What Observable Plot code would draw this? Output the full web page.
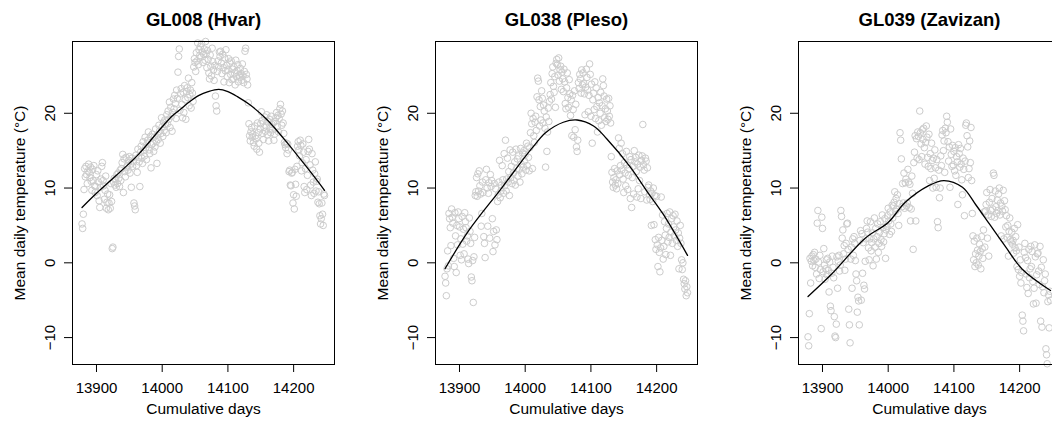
<!DOCTYPE html>
<html><head><meta charset="utf-8">
<script src="https://cdn.jsdelivr.net/npm/d3@7"></script>
<script src="https://cdn.jsdelivr.net/npm/@observablehq/plot@0.6"></script>
<style>
html,body{margin:0;padding:0;background:#fff;overflow:hidden;}
#row{display:flex;width:1089px;}
</style></head><body><div id="row"></div>
<script>
// ---- data ----
const firstDay = 13878; // daily observations, 13878 .. 14247
const titles = ["GL008 (Hvar)", "GL038 (Pleso)", "GL039 (Zavizan)"];
const xLabel = "Cumulative days";
const yLabel = "Mean daily temperature (°C)";
const xTicks = [13900, 14000, 14100, 14200];
const yTicks = [-10, 0, 10, 20];

const hvarTemps = [
5.2,4.6,6.5,9.8,12.6,11.5,12.9,11.8,10.6,12.3,
13.2,12.1,11.4,12.8,10.9,9.7,12.5,11.0,13.0,10.3,
9.4,10.2,11.8,9.0,12.3,10.8,8.3,7.4,10.1,11.2,
12.9,13.4,11.0,10.3,8.5,9.7,11.6,7.3,8.1,9.2,
7.1,8.0,9.1,7.3,10.6,8.2,1.9,2.1,10.8,11.3,
10.4,11.2,10.1,11.8,10.6,12.0,11.3,10.2,12.4,11.0,
12.6,13.4,14.5,9.4,13.9,12.2,11.5,14.1,12.8,13.0,
12.4,13.7,14.2,12.0,13.2,10.1,14.0,12.9,13.5,8.0,
7.6,7.1,14.4,13.0,12.1,15.2,14.1,13.5,10.2,14.8,
15.6,14.0,13.3,16.2,15.0,14.3,16.8,15.4,13.8,15.9,
16.4,17.5,15.1,14.6,16.9,12.7,15.8,17.2,16.0,14.9,
16.8,15.5,17.9,16.2,13.3,17.1,16.5,18.4,17.6,16.0,
17.3,19.4,18.2,16.9,18.8,17.7,19.1,18.5,17.4,19.8,
18.6,20.3,19.2,21.5,18.1,20.8,19.6,17.6,20.1,21.9,
20.6,22.4,21.3,19.3,23.1,22.0,25.5,27.6,28.6,20.4,
22.6,23.3,21.2,19.4,22.8,20.1,23.7,21.8,19.2,22.9,
23.4,22.1,24.7,21.0,22.5,23.1,20.7,24.1,22.7,21.6,
26.2,27.3,26.8,25.6,28.1,27.0,29.4,26.5,28.5,27.7,
28.9,27.5,29.3,28.2,26.8,27.9,28.6,27.1,29.6,28.0,
26.1,28.4,27.2,25.4,24.6,27.8,26.3,25.0,28.7,26.9,
25.8,24.4,26.4,22.3,21.0,20.3,25.6,27.0,26.2,28.2,
27.6,28.3,26.7,25.3,27.9,26.1,24.2,27.4,25.7,28.5,
26.4,24.9,25.8,27.3,24.1,26.7,25.2,27.0,24.5,25.9,
24.6,26.2,25.4,23.8,27.1,24.9,25.7,26.5,24.2,25.1,
24.8,26.0,25.3,24.4,26.6,25.0,24.1,25.6,28.3,28.7,
25.2,24.6,23.8,21.4,18.6,17.0,16.3,17.5,18.1,16.8,
17.2,16.1,15.6,18.3,17.0,16.6,15.2,18.7,17.4,16.0,
14.8,17.9,18.6,20.2,19.0,17.3,16.5,18.1,19.5,17.6,
18.3,19.8,17.1,18.9,16.3,19.2,18.0,17.4,19.6,18.5,
17.8,18.7,16.4,17.2,18.9,19.4,20.1,18.2,19.7,17.5,
19.3,20.6,21.2,19.9,18.4,20.3,18.7,17.3,16.1,15.8,
15.4,16.0,14.6,15.9,15.1,12.2,12.4,10.4,10.3,12.0,
12.1,8.0,9.1,7.2,12.5,10.5,8.9,12.9,15.6,16.2,
15.1,14.3,16.4,15.7,12.3,13.4,15.9,14.8,10.2,9.4,
12.6,13.8,9.8,11.7,14.9,16.5,15.2,13.1,10.4,9.0,
14.6,12.4,10.8,9.3,11.9,13.5,9.6,10.9,11.2,8.1,
9.5,7.9,6.3,5.2,5.9,8.0,6.5,5.0,9.2,9.0
];

const plesoTemps = [
-1.8,-2.7,-4.4,-0.8,1.6,-0.4,6.6,5.9,4.7,2.3,
7.2,6.1,5.3,0.6,-0.5,6.7,3.6,-1.3,5.0,2.4,
6.8,5.9,4.8,1.0,3.2,0.4,6.2,2.5,4.5,1.2,
6.7,5.5,4.7,2.9,3.6,0.5,-0.1,6.0,4.2,2.6,
-1.9,-2.4,0.3,-5.3,0.8,3.4,9.0,9.5,11.4,8.9,
11.9,9.6,12.3,10.3,9.2,4.9,6.6,10.8,9.4,3.5,
2.6,0.7,11.1,12.5,10.0,4.9,9.3,10.7,3.3,11.8,
10.2,11.0,5.9,1.5,4.2,10.6,2.4,9.9,4.4,3.1,
8.2,9.1,10.8,13.7,8.7,9.6,10.4,13.0,11.1,9.3,
14.6,10.3,16.4,9.6,11.2,14.0,10.8,12.2,9.0,15.1,
11.4,12.9,10.6,14.8,12.0,11.0,13.5,10.4,15.2,12.6,
13.9,11.6,14.3,12.5,10.8,15.3,13.2,11.9,14.7,12.8,
15.0,13.6,14.5,12.4,16.0,13.0,15.6,14.1,12.3,15.4,
17.4,20.0,18.6,12.6,19.3,17.0,16.1,18.8,19.6,17.7,
22.2,24.7,24.3,21.8,18.3,20.9,19.1,23.0,22.0,18.7,
21.1,20.3,18.0,12.8,19.5,14.9,17.5,20.7,18.9,21.6,
22.5,24.1,21.9,25.3,26.2,23.6,22.8,24.9,20.8,26.7,
27.2,26.5,25.1,27.4,24.3,25.8,26.3,23.2,25.5,24.6,
22.9,25.9,24.2,21.3,20.6,23.4,25.4,22.1,20.8,24.5,
22.6,19.7,21.8,17.0,22.4,20.5,16.8,23.0,17.8,21.2,
15.5,14.9,16.4,24.1,23.3,25.2,24.6,22.7,25.8,23.8,
25.4,24.0,22.6,19.8,23.5,25.9,24.8,23.1,20.2,22.4,
26.6,25.2,19.6,23.9,16.0,21.8,22.7,20.5,24.2,19.3,
23.4,20.9,17.5,22.1,19.0,21.4,20.0,22.8,18.4,21.0,
24.6,23.7,22.3,19.4,20.6,18.9,21.9,20.3,19.2,22.0,
19.6,21.0,18.7,14.2,12.1,10.8,10.1,11.4,12.6,10.4,
11.1,9.9,12.3,10.6,16.7,15.3,11.8,13.0,16.0,12.4,
14.6,11.2,9.4,13.4,12.0,10.3,14.9,13.1,9.8,11.7,
12.6,14.2,8.6,13.8,7.4,11.4,12.9,9.2,15.0,13.5,
14.1,12.2,8.8,13.2,9.9,14.4,11.0,12.8,8.6,13.7,
14.3,18.5,13.1,12.4,9.5,14.0,13.6,8.4,12.7,10.1,
10.4,9.1,8.5,9.6,5.0,9.3,8.2,10.0,5.1,9.0,
3.1,1.8,8.9,2.4,-0.5,3.4,1.4,-1.2,2.0,8.8,
3.0,6.4,0.5,2.2,5.5,3.7,1.1,4.6,6.6,2.8,
5.2,3.4,6.8,1.0,4.1,5.9,2.6,6.3,4.8,3.6,
6.5,4.4,3.0,5.6,2.2,4.0,-0.8,3.3,5.0,2.6,
0.4,-0.9,0.0,-2.2,-2.8,-3.5,-2.4,-4.4,-3.2,-4.0
];

const zavizanTemps = [
-9.9,-11.1,-6.8,0.6,-2.7,0.2,0.9,-0.4,1.1,0.3,
1.4,-0.6,0.5,-1.5,5.3,7.0,0.1,-2.1,1.0,-0.9,
-8.8,6.1,4.6,-1.2,1.9,-0.3,-2.2,-0.8,0.4,-1.6,
0.6,-1.0,-3.9,0.1,-5.8,-6.4,-1.4,0.9,-0.6,-2.0,
-7.2,-9.8,-10.0,-8.2,0.8,-3.4,0.2,1.0,-1.1,-0.3,
7.0,6.2,3.3,4.4,1.2,2.3,-1.0,0.5,2.6,5.2,
5.3,1.8,-6.2,-8.3,-10.7,0.5,2.1,-3.4,3.2,1.0,
3.5,2.6,0.3,-1.5,-2.4,-6.6,-4.6,-5.1,-8.3,3.0,
4.3,-5.0,3.9,-1.4,2.7,-3.0,-3.5,0.2,3.2,4.6,
5.6,4.1,2.0,0.4,3.2,5.5,1.6,2.7,4.0,-0.4,
3.2,6.0,2.1,4.6,0.5,3.5,5.2,1.4,2.6,4.1,
5.5,3.1,2.2,6.4,4.7,2.8,3.9,5.9,0.6,4.4,
4.9,6.3,7.3,5.6,3.8,6.8,5.2,4.2,7.7,6.0,
7.6,8.1,9.5,6.9,8.6,7.2,9.1,6.6,5.0,7.9,
17.4,16.4,13.9,7.5,10.6,8.0,12.0,7.3,10.7,11.2,
7.6,8.0,12.5,10.8,7.4,10.5,5.6,7.2,11.6,9.3,
1.8,13.4,14.8,17.0,5.6,16.6,14.0,17.5,16.9,13.8,
20.3,17.4,15.9,14.2,17.8,16.5,18.0,15.4,13.2,16.1,
18.3,16.8,14.1,12.9,17.2,11.0,14.6,12.6,16.0,13.7,
10.0,14.0,11.3,15.1,12.7,10.1,13.8,5.5,4.7,12.4,
8.7,10.0,14.3,13.0,17.1,17.7,15.0,16.3,12.1,18.0,
17.4,19.6,18.8,16.2,13.6,15.5,10.1,17.9,14.5,12.9,
15.7,13.1,14.9,12.3,15.4,11.7,14.2,13.5,7.8,15.8,
14.6,12.8,15.3,13.2,11.1,9.1,14.0,12.5,6.3,13.6,
18.4,18.7,17.0,15.5,11.4,12.6,16.3,13.4,18.1,11.0,
6.6,3.6,0.4,2.9,-0.5,1.2,0.0,3.3,1.7,-0.3,
0.9,2.5,1.5,-0.8,3.5,1.9,0.6,4.4,6.8,2.1,
6.9,7.8,9.4,3.3,6.4,0.9,8.1,9.8,7.0,6.2,
8.6,7.2,12.0,11.7,6.1,9.6,7.5,6.6,8.4,7.0,
9.2,10.0,6.4,8.0,3.6,7.6,6.9,9.7,3.2,8.3,
7.1,4.8,6.3,3.4,5.0,0.9,4.2,6.0,3.1,2.8,
4.1,2.5,3.0,1.3,4.6,2.0,3.5,1.6,-0.5,5.1,
-0.9,2.1,-1.8,0.4,-2.7,-1.3,-7.0,-7.8,-9.1,1.4,
2.6,0.7,-1.5,-3.3,0.3,-4.1,1.8,-2.0,-0.8,2.2,
-0.5,1.5,-2.5,-5.5,-3.4,2.4,0.8,-5.4,-1.6,1.2,
1.3,-1.1,-2.9,2.2,-7.8,-0.6,-8.6,-3.2,0.4,-4.0,
-2.4,-1.5,-11.5,-12.3,-13.5,-5.2,-4.3,-8.7,-3.8,-5.0
];

// fitted curves (knots)
const hvarFitDays = [13878,13900,13924,13950,13965,14000,14016,14026,14041,14056,14070,14086,14100,14115,14134,14160,14185,14210,14236,14247];
const hvarFit     = [7.4,9.3,11.2,13.3,14.6,18.2,19.7,20.4,21.5,22.4,22.9,23.2,22.9,22.2,21.1,19.1,16.6,13.9,11.0,9.7];
const plesoFitDays = [13878,13914,13965,14000,14011,14031,14058,14079,14104,14124,14160,14185,14210,14247];
const plesoFit     = [-0.8,4.3,10.1,14.2,15.4,17.4,18.8,19.1,18.3,16.6,12.8,9.6,6.5,1.0];
const zavizanFitDays = [13878,13914,13965,14000,14026,14061,14085,14113,14133,14154,14179,14204,14247];
const zavizanFit     = [-4.5,-1.5,3.3,5.4,8.1,10.3,11.0,10.1,7.8,5.2,2.1,-0.85,-3.7];

// ---- chart ----
const series = [
  {title: titles[0], temps: hvarTemps, fd: hvarFitDays, fv: hvarFit},
  {title: titles[1], temps: plesoTemps, fd: plesoFitDays, fv: plesoFit},
  {title: titles[2], temps: zavizanTemps, fd: zavizanFitDays, fv: zavizanFit}
];

const row = document.getElementById("row");
for (const s of series) {
  const pts = s.temps.map((t, i) => ({day: firstDay + i, temp: t}));
  const fit = s.fd.map((d, i) => ({day: d, temp: s.fv[i]}));
  const chart = Plot.plot({
    width: 363,
    height: 425,
    marginLeft: 72,
    marginRight: 29,
    marginTop: 41,
    marginBottom: 61,
    style: {fontFamily: "'Liberation Sans', Arial, Helvetica, sans-serif", fontSize: "15px", color: "black", background: "white", overflow: "visible"},
    x: {domain: [13863.5, 14262.2], axis: null},
    y: {domain: [-13.6, 29.6], axis: null},
    marks: [
      Plot.dot(pts, {x: "day", y: "temp", r: 3.3, stroke: "#cccccc", strokeWidth: 1, fill: "none"}),
      Plot.line(fit, {x: "day", y: "temp", curve: "catmull-rom", stroke: "black", strokeWidth: 1.3}),
      Plot.frame({stroke: "black", strokeWidth: 1}),
      Plot.axisX(xTicks, {tickSize: 8, tickPadding: 10, fontSize: 15, tickFormat: d => String(d), label: null, stroke: "black", fill: "black"}),
      Plot.axisY(yTicks, {tickSize: 8, tickPadding: 10, tickRotate: -90, fontSize: 15, tickFormat: d => (d < 0 ? "\u2212" + Math.abs(d) : String(d)), label: null, stroke: "black", fill: "black"}),
      Plot.text([s.title], {frameAnchor: "top", dy: -16, lineAnchor: "bottom", textAnchor: "middle", fontSize: 18.5, fontWeight: "bold", fill: "black"}),
      Plot.text([yLabel], {frameAnchor: "left", rotate: -90, dx: -48, lineAnchor: "bottom", textAnchor: "middle", fontSize: 15.5, fill: "black"}),
      Plot.text([xLabel], {frameAnchor: "bottom", dy: 49, lineAnchor: "bottom", textAnchor: "middle", fontSize: 15.5, fill: "black"})
    ]
  });
  chart.style.flex = "0 0 auto";
  row.appendChild(chart);
}
</script>
</body></html>
